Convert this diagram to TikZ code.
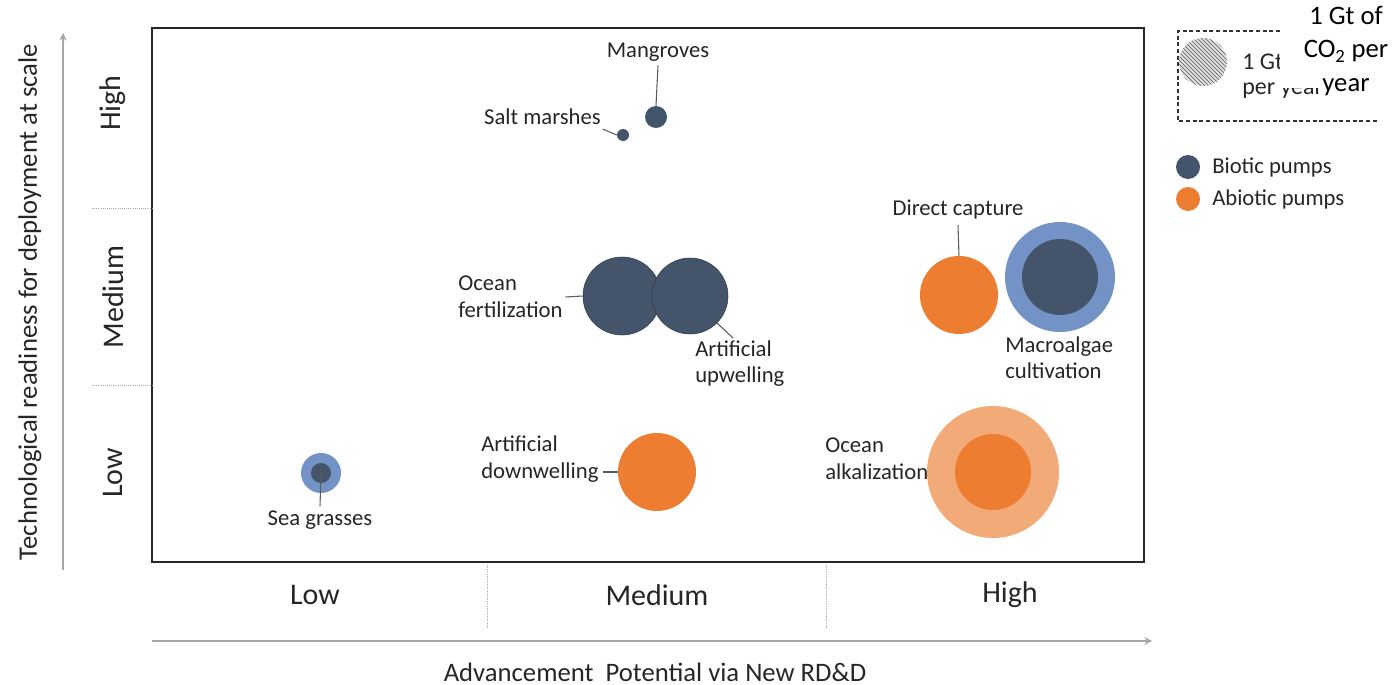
\documentclass[tikz,border=0pt]{standalone}
\usepackage{fontspec}
\setmainfont{Carlito}
\usepackage{tikz}
\usetikzlibrary{patterns}

\definecolor{biotic}{HTML}{44546A}
\definecolor{biolight}{HTML}{7393C6}
\definecolor{abiotic}{HTML}{ED7D31}
\definecolor{abiolight}{HTML}{F2AA78}
\definecolor{axisgray}{HTML}{A6A6A6}
\definecolor{txt}{HTML}{262626}

\tikzset{
  lbl/.style={font=\fontsize{17}{20}\selectfont, text=txt, align=left, inner sep=0pt},
  cat/.style={font=\fontsize{22.5}{26}\selectfont, text=txt, inner sep=0pt},
  bub/.style={circle, inner sep=0pt, minimum size=#1},
  lead/.style={draw=txt!75, line width=0.8pt},
  sep/.style={draw=axisgray, line width=0.6pt, densely dotted}
}

\begin{document}
\begin{tikzpicture}[x=0.75pt, y=-0.75pt]
    \useasboundingbox (0,0) rectangle (1396,685);

    % frame and axes
    \draw[line width=1.1pt, black!85] (152,28) rectangle (1144,562);
    \draw[line width=1.5pt, axisgray, ->, >=stealth] (63,570) -- (63,33);
    \draw[line width=1.5pt, axisgray, ->, >=stealth] (152,641) -- (1152,641);

    \draw[sep] (92,208) -- (152,208);
    \draw[sep] (92,385) -- (152,385);
    \draw[sep] (487,565) -- (487,627);
    \draw[sep] (826,565) -- (826,627);

    \node[cat, rotate=90] (yhigh) at (113,103) {High};
    \node[cat, rotate=90] (ymed) at (113,297) {Medium};
    \node[cat, rotate=90] (ylow) at (113,473) {Low};
    \node[cat] (xlow) at (315,595) {Low};
    \node[cat] (xmed) at (657,595) {Medium};
    \node[cat] (xhigh) at (1010,595) {High};

    \node[lbl, font=\fontsize{20}{24}\selectfont, rotate=90] (ytitle) at (30,302) {Technological readiness for deployment at scale};
    \node[lbl, font=\fontsize{20}{24}\selectfont] (xtitle) at (655,672) {Advancement~~Potential via New RD\&D};

    % high readiness
    \node[bub=16.5pt, fill=biotic] (mang) at (656,117) {};
    \node[lbl] (mangl) at (658,52) {Mangroves};
    \draw[lead] ([yshift=-3]mangl.south) -- (mang.north);
    \node[bub=9pt, fill=biotic] (salt) at (623,135) {};
    \node[lbl, anchor=east] (saltl) at (601,117) {Salt marshes};
    \draw[lead] ([shift={(2,4)}]saltl.south east) -- (salt.west);

    % medium readiness
    \node[bub=58.5pt, fill=biotic, draw=biotic!70!black, line width=0.4pt] (fert) at (622,296) {};
    \node[bub=57pt, fill=biotic, draw=biotic!70!black, line width=0.4pt] (upw) at (690,296) {};
    \node[lbl, anchor=west] (fertl) at (458,297) {Ocean\\fertilization};
    \draw[lead] ([xshift=2]fertl.east) -- (fert.west);
    \node[lbl, anchor=north west] (upwl) at (695,340) {Artificial\\upwelling};
    \coordinate (upwend) at (733,338);
    \draw[lead] (upw.south east) -- (upwend);

    \node[bub=58.5pt, fill=abiotic] (dc) at (959,295) {};
    \node[lbl] (dcl) at (958,210) {Direct capture};
    \draw[lead] ([yshift=-4]dcl.south) -- (dc.north);
    \node[bub=82.5pt, fill=biolight] (macro) at (1060,277) {};
    \node[bub=57pt, fill=biotic] (macroin) at (1060,277) {};
    \node[lbl, anchor=north west] (macrol) at (1005,336) {Macroalgae\\cultivation};

    % low readiness
    \node[bub=30pt, fill=biolight] (sg) at (321,473) {};
    \node[bub=15pt, fill=biotic] (sgin) at (321,473) {};
    \node[lbl] (sgl) at (320,520) {Sea grasses};
    \draw[lead] (sgin.center) -- ([yshift=3]sgl.north);

    \node[bub=58.5pt, fill=abiotic] (dw) at (657,472) {};
    \node[lbl, anchor=west] (dwl) at (481,459) {Artificial\\downwelling};
    \draw[lead] ([xshift=3]dwl.east |- dw.west) -- (dw.west);

    \node[bub=99pt, fill=abiolight] (alk) at (993,472) {};
    \node[bub=57pt, fill=abiotic] (alkin) at (993,472) {};
    \node[lbl, anchor=west] (alkl) at (825,459) {Ocean\\alkalization};

    % legend
    \draw[line width=0.9pt, black!80, densely dashed] (1280,31) -- (1178,31) -- (1178,121) -- (1378,121);
    \node[bub=36pt, pattern=north west lines, pattern color=gray!70!black, preaction={fill=gray!25}] (hatch) at (1203,62) {};
    \node[lbl, font=\fontsize{18}{20}\selectfont, anchor=west] (gtlow1) at (1242,63) {1 Gt of CO\textsubscript{2}};
    \node[lbl, font=\fontsize{18}{20}\selectfont, anchor=west] (gtlow2) at (1242,91) {per year};
    \fill[white] (1280,0) rectangle (1396,88);
    \node[lbl, font=\fontsize{20}{25}\selectfont, align=center, text=black] (gt) at (1346,51) {1 Gt of\\CO\textsubscript{2} per\\year};

    \node[bub=18pt, fill=biotic] (bio) at (1188,167) {};
    \node[lbl, anchor=west] (biol) at (1212,167) {Biotic pumps};
    \node[bub=18pt, fill=abiotic] (abio) at (1188,199) {};
    \node[lbl, anchor=west] (abiol) at (1212,199) {Abiotic pumps};
\end{tikzpicture}
\end{document}
